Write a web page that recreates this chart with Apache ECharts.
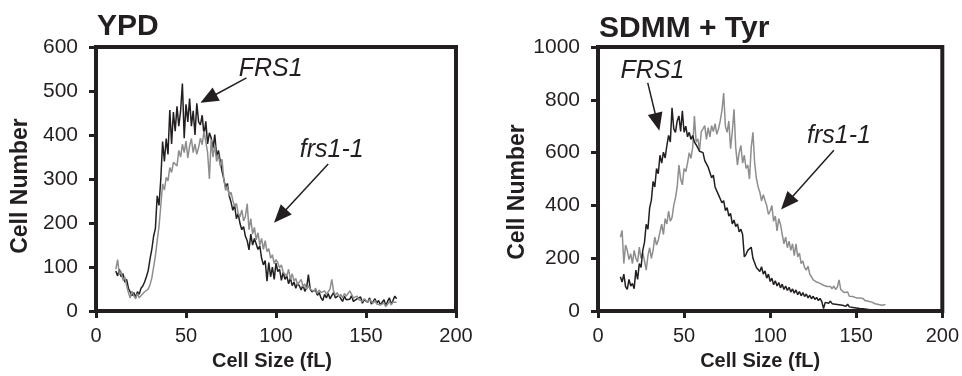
<!DOCTYPE html>
<html>
<head>
<meta charset="utf-8">
<script src="https://cdn.jsdelivr.net/npm/echarts@6/dist/echarts.min.js"></script>
<style>
  html, body { margin: 0; padding: 0; background: #fff; }
  #chart { width: 962px; height: 376px; }
</style>
</head>
<body>
<div id="chart"></div>
<script>
// histogram bins: first bin at 11 fL, one bin per fL
const binStart = 11;

// YPD panel
const ypdFRS1 = [
  91, 80, 95, 78, 85, 66, 72, 52, 48, 35,
  42, 31, 44, 38, 52, 57, 66, 78, 92, 118,
  140, 170, 188, 262, 240, 300, 385, 340, 392, 356,
  457, 380, 452, 409, 465, 420, 455, 517, 393, 470,
  430, 483, 420, 455, 400, 472, 430, 423, 445, 400,
  431, 380, 405, 393, 370, 401, 352, 365, 342, 318,
  300, 281, 290, 262, 248, 229, 240, 210, 222, 199,
  185, 192, 170, 160, 139, 175, 150, 165, 169, 140,
  148, 120, 105, 115, 68, 110, 78, 100, 72, 109,
  90, 95, 70, 88, 72, 80, 62, 75, 58, 66,
  52, 64, 57, 48, 60, 45, 52, 83, 50, 44,
  40, 48, 36, 42, 30, 24, 38, 30, 40, 28,
  35, 42, 30, 26, 36, 28, 22, 34, 26, 30,
  27, 35, 22, 20, 28, 24, 32, 18, 26, 24,
  20, 30, 16, 22, 28, 18, 24, 14, 20, 26,
  12, 22, 30, 16, 24, 34, 28
];
const ypdFrs11 = [
  95, 117, 82, 90, 70, 78, 58, 42, 30, 45,
  35, 28, 40, 30, 35, 38, 44, 46, 50, 60,
  75, 100, 125, 160, 192, 240, 289, 275, 304, 296,
  326, 315, 338, 342, 330, 365, 350, 379, 360, 386,
  348, 375, 392, 360, 380, 356, 372, 393, 378, 409,
  385, 360, 300, 390, 350, 378, 340, 356, 330, 345,
  300, 274, 285, 262, 270, 252, 238, 245, 222, 214,
  230, 205, 215, 244, 185, 210, 175, 190, 162, 178,
  150, 165, 140, 160, 135, 142, 120, 128, 108, 117,
  110, 98, 105, 88, 92, 80, 95, 72, 85, 68,
  74, 60, 64, 72, 55, 62, 50, 58, 50, 54,
  45, 52, 40, 48, 42, 42, 46, 38, 44, 50,
  72, 45, 36, 42, 33, 38, 30, 40, 34, 35,
  46, 38, 30, 28, 34, 26, 30, 22, 28, 24,
  20, 26, 22, 18, 24, 16, 20, 14, 12, 18,
  10, 16, 22, 14, 20, 24, 20
];

// SDMM + Tyr panel
const sdmmFRS1 = [
  null, null, 130, 110, 140, 93, 82, 120, 95, 105,
  85, 155, 120, 180, 165, 230, 260, 329, 310, 391,
  420, 491, 470, 540, 520, 590, 560, 602, 580, 627,
  665, 640, 770, 690, 677, 720, 739, 680, 758, 677,
  700, 660, 677, 650, 665, 640, 630, 618, 605, 602,
  600, 570, 575, 545, 540, 505, 515, 470, 472, 440,
  445, 410, 418, 380, 392, 360, 370, 330, 345, 320,
  330, 300, 310, 290, 205, 215, 230, 225, 242, 200,
  195, 165, 172, 150, 168, 140, 152, 125, 140, 112,
  125, 100, 115, 95, 108, 88, 102, 82, 95, 78,
  90, 72, 84, 68, 80, 62, 74, 58, 70, 55,
  65, 50, 60, 47, 56, 44, 52, 40, 48, 36,
  10, 33, 40, 30, 38, 28, 35, 26, 32, 24,
  30, 22, 27, 18, 26, 16, 23, 14, 21, 12,
  18, 10, 16, 9, 14, 7, 12, 5, 10, 4,
  8, 3, 7, 2, 6, 3, 5
];
const sdmmFrs11 = [
  null, null, 280, 305, 180, 250, 230, 195, 217, 180,
  230, 200, 185, 242, 200, 220, 190, 155, 210, 240,
  200, 230, 280, 250, 268, 300, 329, 290, 350, 330,
  379, 340, 354, 400, 429, 470, 553, 500, 478, 540,
  528, 560, 600, 578, 620, 739, 640, 652, 610, 680,
  690, 702, 650, 695, 660, 702, 680, 710, 670, 690,
  720, 760, 826, 700, 677, 720, 615, 680, 764, 620,
  553, 600, 627, 560, 590, 540, 553, 500, 620, 677,
  560, 503, 470, 450, 417, 441, 420, 400, 366, 379,
  400, 340, 360, 304, 350, 329, 290, 255, 280, 240,
  265, 230, 255, 210, 255, 205, 220, 180, 190, 165,
  155, 170, 140, 130, 118, 125, 110, 115, 105, 110,
  98, 102, 93, 100, 93, 85, 95, 82, 90, 118,
  82, 75, 70, 65, 72, 56, 62, 55, 60, 50,
  55, 50, 45, 48, 40, 44, 37, 40, 34, 30,
  28, 32, 25, 28, 22, 26, 25
];

const panelTitles = ['YPD', 'SDMM + Tyr'];
const strainNames = ['FRS1', 'frs1-1'];
const xTickStep = 50, xMax = 200;
const yMaxes = [600, 1000];
const yTickSteps = [100, 200];

// annotation: label centre, arrow tail and arrow head (data units)
const ypdNotes = [
  {text: 'FRS1', at: [97, 551], from: [83.6, 530], to: [62.4, 483]},
  {text: 'frs1-1', at: [131, 367], from: [129, 334], to: [102.3, 216]},
];
const sdmmNotes = [
  {text: 'FRS1', at: [31.6, 909], from: [28.9, 864], to: [34.4, 716]},
  {text: 'frs1-1', at: [140, 663], from: [137, 609], to: [109.8, 410]},
];

const INK = '#231f20';
const GREY = '#8e8e8e';
const FONT = '"Liberation Sans", Arial, sans-serif';

const toPairs = (vals) => vals.map((v, i) => [binStart + i, v]);

function notesMarks(notes) {
  return {
    markLine: {
      silent: true,
      animation: false,
      symbol: ['none', 'triangle'],
      symbolSize: [15, 18],
      label: {show: false},
      lineStyle: {color: INK, width: 1.5, type: 'solid'},
      itemStyle: {color: INK},
      emphasis: {disabled: true},
      data: notes.map((n) => [{coord: n.from}, {coord: n.to}]),
    },
    markPoint: {
      silent: true,
      animation: false,
      symbol: 'circle',
      symbolSize: 1,
      itemStyle: {color: 'rgba(0,0,0,0)'},
      label: {
        show: true,
        position: 'inside',
        color: INK,
        fontFamily: FONT,
        fontStyle: 'italic',
        fontSize: 25,
        formatter: (p) => p.name,
      },
      data: notes.map((n) => ({name: n.text, coord: n.at})),
    },
  };
}

function xAxisFor(gridIndex, namePad) {
  return {
    type: 'value',
    gridIndex,
    min: 0,
    max: xMax,
    interval: xTickStep,
    axisLine: {show: false},
    axisTick: {show: true, inside: false, length: 7, lineStyle: {color: INK, width: 3}},
    splitLine: {show: false},
    axisLabel: {color: INK, fontFamily: FONT, fontSize: 20, margin: 15},
    name: 'Cell Size (fL)',
    nameLocation: 'middle',
    nameGap: 34,
    nameTextStyle: {color: INK, fontFamily: FONT, fontWeight: 'bold', fontSize: 20, padding: namePad},
  };
}

function yAxisFor(gridIndex, namePad) {
  return {
    type: 'value',
    gridIndex,
    min: 0,
    max: yMaxes[gridIndex],
    interval: yTickSteps[gridIndex],
    axisLine: {show: false},
    axisTick: {show: true, inside: false, length: 7, lineStyle: {color: INK, width: 3}},
    splitLine: {show: false},
    axisLabel: {color: INK, fontFamily: FONT, fontSize: 21, margin: 18, formatter: (v) => String(v)},
    name: 'Cell Number',
    nameLocation: 'middle',
    nameGap: 64,
    nameTextStyle: {color: INK, fontFamily: FONT, fontWeight: 'bold', fontSize: 23, padding: namePad},
  };
}

const chart = echarts.init(document.getElementById('chart'), null, {renderer: 'canvas'});

const option = {
  animation: false,
  backgroundColor: '#fff',
  title: [
    {text: panelTitles[0], left: 97, top: 12, padding: 0,
      textStyle: {color: INK, fontFamily: FONT, fontWeight: 'bold', fontSize: 30}},
    {text: panelTitles[1], left: 599, top: 14, padding: 0,
      textStyle: {color: INK, fontFamily: FONT, fontWeight: 'bold', fontSize: 30}},
  ],
  grid: [
    {left: 96, top: 47, width: 360, height: 268, show: true, borderColor: INK, borderWidth: 4, backgroundColor: 'transparent'},
    {left: 598, top: 47, width: 349, height: 268, show: true, borderColor: INK, borderWidth: 4, backgroundColor: 'transparent'},
  ],
  xAxis: [xAxisFor(0, [0, 8, 0, 0]), xAxisFor(1, [0, 20, 0, 0])],
  yAxis: [yAxisFor(0, [0, 14, 0, 0]), yAxisFor(1, [0, 26, 0, 0])],
  series: [
    Object.assign({
      name: strainNames[0], type: 'line', xAxisIndex: 0, yAxisIndex: 0,
      data: toPairs(ypdFRS1), showSymbol: false, symbol: 'none',
      lineStyle: {color: INK, width: 1.5}, z: 2,
    }, notesMarks(ypdNotes)),
    {
      name: strainNames[1], type: 'line', xAxisIndex: 0, yAxisIndex: 0,
      data: toPairs(ypdFrs11), showSymbol: false, symbol: 'none',
      lineStyle: {color: GREY, width: 1.5}, z: 3,
    },
    Object.assign({
      name: strainNames[0], type: 'line', xAxisIndex: 1, yAxisIndex: 1,
      data: toPairs(sdmmFRS1), showSymbol: false, symbol: 'none',
      lineStyle: {color: INK, width: 1.5}, z: 3,
    }, notesMarks(sdmmNotes)),
    {
      name: strainNames[1], type: 'line', xAxisIndex: 1, yAxisIndex: 1,
      data: toPairs(sdmmFrs11), showSymbol: false, symbol: 'none',
      lineStyle: {color: GREY, width: 1.5}, z: 2,
    },
  ],
};

chart.setOption(option);
</script>
</body>
</html>
